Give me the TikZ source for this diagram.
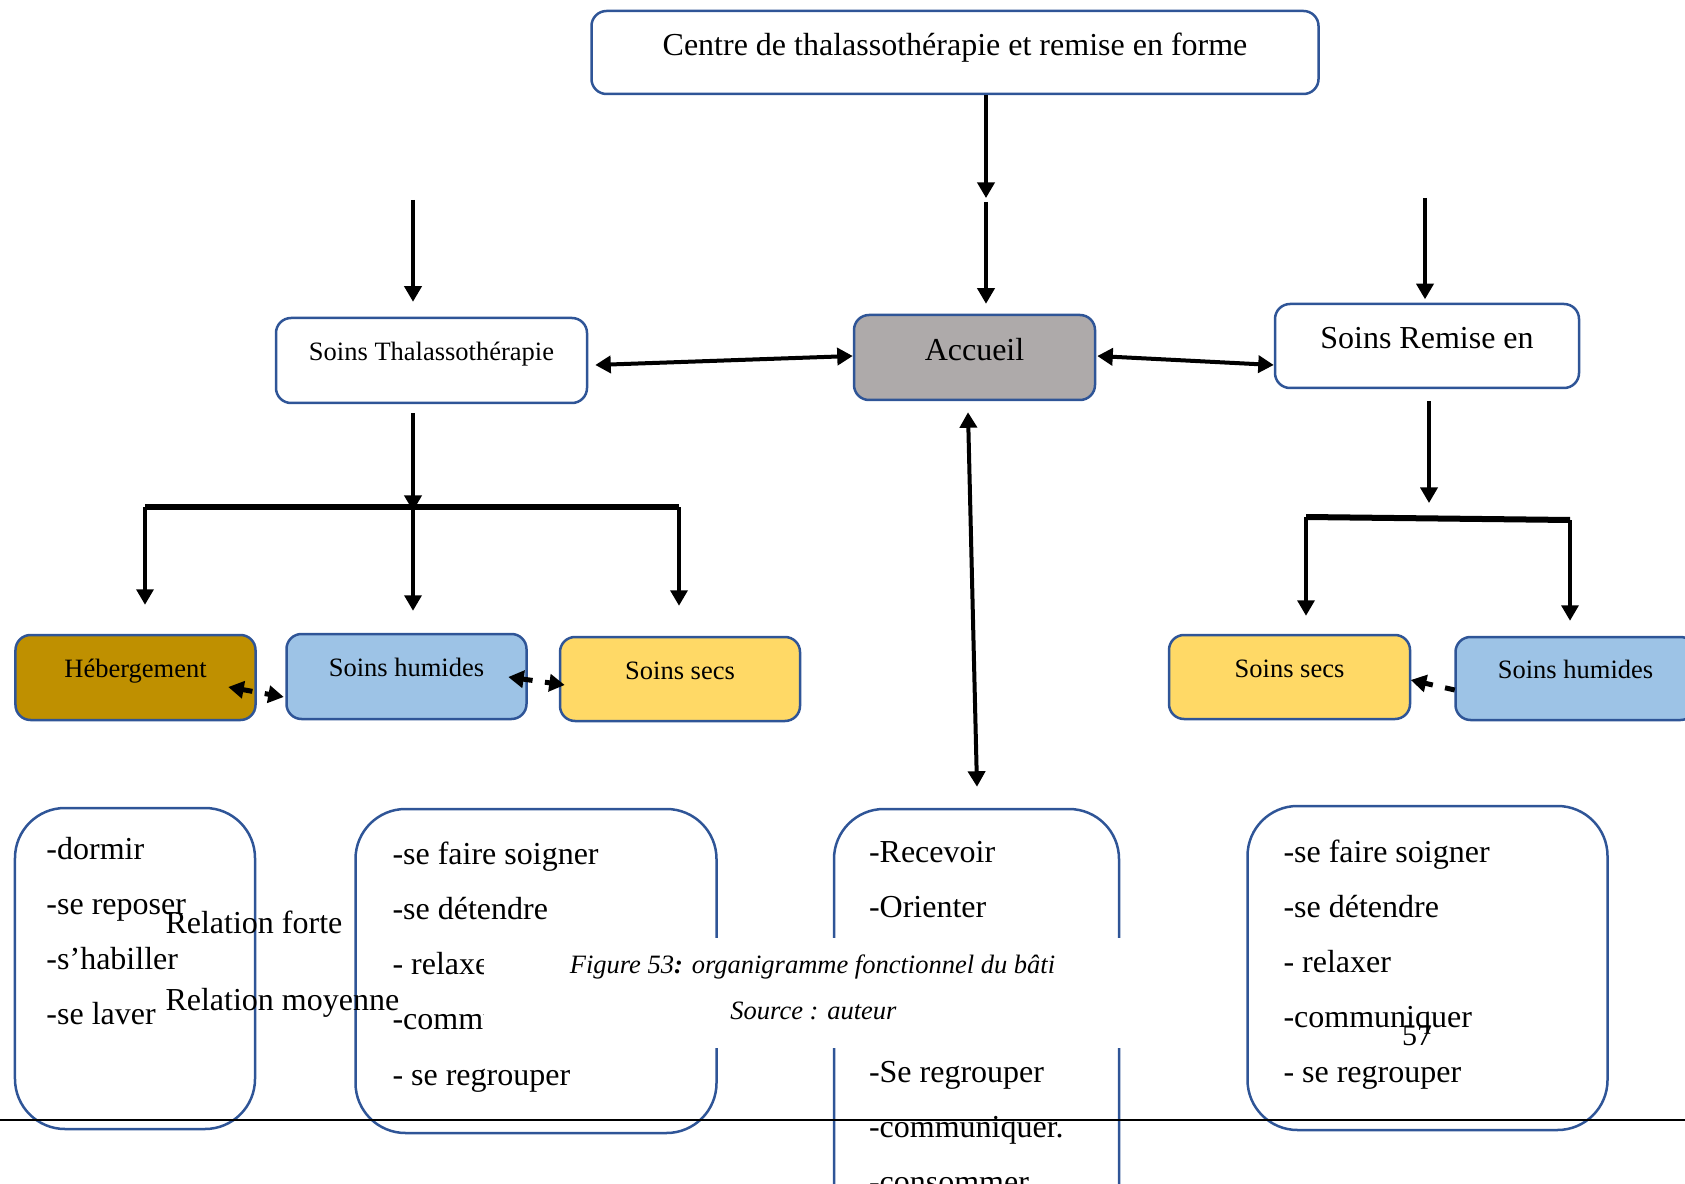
\documentclass[tikz,border=0pt]{standalone}
\usepackage{fontspec}
\setmainfont{Liberation Serif}
\usetikzlibrary{arrows.meta}

\definecolor{contour}{HTML}{2F5597}
\definecolor{gris}{HTML}{AEAAAA}
\definecolor{ocre}{HTML}{BF9000}
\definecolor{bleuclair}{HTML}{9DC3E6}
\definecolor{jaune}{HTML}{FFD966}

\begin{document}
\begin{tikzpicture}[x=0.4pt,y=-0.4pt,
        >={Triangle[width=6.8pt,length=6.2pt]},
        boite/.style={draw=contour,line width=1pt,rounded corners=6pt,inner sep=0pt,
            text height=9.2pt,text depth=6.8pt,font=\fontsize{12.8}{15}\selectfont},
        petite/.style={boite,text height=8pt,text depth=8pt,font=\fontsize{10.6}{13}\selectfont},
        liste/.style={draw=contour,line width=1pt,rounded corners=20pt,inner sep=0pt},
        texte/.style={inner sep=0pt,anchor=base west,font=\fontsize{12.8}{15}\selectfont},
        fleche/.style={->,line width=1.4pt},
        fleche2/.style={<->,line width=1.6pt},
        tiret/.style={<->,line width=2pt,dash pattern=on 4pt off 5pt},
        barre/.style={line width=2.4pt}]
        \useasboundingbox (0,0) rectangle (1685,1184);
        \clip (0,0) rectangle (1685,1184);

        % Centre
        \node[boite,minimum width=290.8pt,minimum height=33.2pt] (centre) at (955,52.5)
            {Centre de thalassothérapie et remise en forme};

        % Accueil
        \node[boite,fill=gris,minimum width=96.4pt,minimum height=34pt] (accueil) at (974.5,357.5) {Accueil};

        % Soins Thalassotherapie / Soins Remise en
        \node[petite,minimum width=124.4pt,minimum height=34pt] (thalasso) at (431.5,360.5) {Soins Thalassothérapie};
        \node[boite,minimum width=121.6pt,minimum height=33.6pt] (remise) at (1427,346) {Soins Remise en};

        % espaces
        \node[petite,fill=ocre,minimum width=96pt,minimum height=34pt] (heb) at (135.5,677.5) {Hébergement};
        \node[petite,fill=bleuclair,minimum width=96pt,minimum height=34pt] (shL) at (406.5,676.5) {Soins humides};
        \node[petite,fill=jaune,minimum width=96pt,minimum height=33.6pt] (ssL) at (680,679) {Soins secs};
        \node[petite,fill=jaune,minimum width=96.4pt,minimum height=33.6pt] (ssR) at (1289.5,677) {Soins secs};
        \node[petite,fill=bleuclair,minimum width=96pt,minimum height=33.2pt] (shR) at (1575.5,678.5) {Soins humides};

        % fleches du haut
        \coordinate (hautT) at (413,200);
        \coordinate (hautR) at (1425,198);
        \coordinate (relais1) at (986,198);
        \coordinate (relais2) at (986,202);
        \draw[fleche] (centre.south -| relais1) -- (relais1);
        \draw[fleche,shorten >=4pt] (relais2) -- (relais2 |- accueil.north);
        \draw[fleche,shorten >=6pt] (hautT) -- (hautT |- thalasso.north);
        \draw[fleche,shorten >=1.4pt] (hautR) -- (hautR |- remise.north);

        \draw[fleche2] ([shift={(7,4.5)}]thalasso.east) -- ([shift={(0,-1.5)}]accueil.west);
        \draw[fleche2] ([shift={(1,-1.5)}]accueil.east) -- ([shift={(0,19)}]remise.west);

        % branche gauche
        \coordinate (barreG) at (145,507);
        \coordinate (barreD) at (679,507);
        \coordinate (brasT) at (413,511);
        \draw[fleche,shorten <=3.6pt] (thalasso.south -| brasT) -- (brasT);
        \draw[barre] (barreG) -- (barreD);
        \draw[fleche,shorten >=11.6pt] (barreG) -- (barreG |- heb.north);
        \draw[fleche,shorten >=8.8pt] (brasT |- barreG) -- (brasT |- shL.north);
        \draw[fleche,shorten >=12pt] (barreD) -- (barreD |- ssL.north);

        % branche droite
        \coordinate (brasR) at (1429,503);
        \coordinate (barreRG) at (1306,517);
        \coordinate (barreRD) at (1570,520);
        \draw[fleche,shorten <=4.8pt] (remise.south -| brasR) -- (brasR);
        \draw[barre] (barreRG) -- (barreRD);
        \draw[fleche,shorten >=7.2pt] (barreRG) -- (barreRG |- ssR.north);
        \draw[fleche,shorten >=6pt] (barreRD) -- (barreRD |- shR.north);

        % relations
        \draw[tiret] ([shift={(-28.5,9.5)}]heb.east) -- ([shift={(-1.5,20.5)}]shL.west);
        \draw[tiret] ([shift={(-19.5,0.5)}]shL.east) -- ([shift={(6,6)}]ssL.west);
        \draw[tiret,->] ([shift={(0.5,11.5)}]shR.west) -- ([shift={(-0.5,3)}]ssR.east);

        % activites
        \node[liste,minimum width=96pt,minimum height=128.4pt] (b1) at (135,968.5) {};
        \node[liste,minimum width=144.4pt,minimum height=129.6pt] (b2) at (536,971) {};
        \node[liste,minimum width=114pt,minimum height=180.4pt] (b3) at (976.5,1034.5) {};
        \node[liste,minimum width=144pt,minimum height=129.6pt] (b4) at (1427.5,968) {};
        \draw[fleche2] ([shift={(-6.5,11)}]accueil.south) -- ([shift={(0.5,-21)}]b3.north);

        \foreach \t [count=\i from 0] in {-dormir,-se reposer,-s’habiller,-se laver}
            \node[texte] (lh\i) at (46,859+55.25*\i) {\t};
        \foreach \t [count=\i from 0] in {-se faire soigner,-se détendre,- relaxer,-communiquer,- se regrouper}
            \node[texte] (lsh\i) at (392,864+55.25*\i) {\t};
        \foreach \i/\t in {0/-Recevoir,1/-Orienter,4/-Se regrouper,5/-communiquer.,6/-consommer}
            \node[texte] (lacc\i) at (868.5,862+55.1*\i) {\t};
        \foreach \t [count=\i from 0] in {-se faire soigner,-se détendre,- relaxer,-communiquer,- se regrouper}
            \node[texte] (lrem\i) at (1283,862+55.2*\i) {\t};

        % legende
        \node[fill=white,inner sep=0pt,minimum width=256.4pt,minimum height=44pt] (cache) at (804.5,993) {};
        \node[inner sep=0pt,anchor=base,font=\fontsize{10.6}{13}\selectfont\itshape] (legende) at (812.5,973)
            {Figure 53\textbf{:} organigramme fonctionnel du bâti};
        \node[inner sep=0pt,anchor=base,font=\fontsize{10.6}{13}\selectfont\itshape] (source) at (813.5,1019)
            {Source : auteur};

        \node[texte] (forte) at (165,933) {Relation forte};
        \node[texte] (moyenne) at (165,1010) {Relation moyenne};
        \node[inner sep=0pt,anchor=base,font=\fontsize{12}{14}\selectfont] (page) at (1417,1045) {57};

        % pied de page
        \coordinate (pageG) at (0,1120);
        \coordinate (pageD) at (1685,1120);
        \draw[line width=0.8pt] (pageG) -- (pageD);
    \end{tikzpicture}
\end{document}
